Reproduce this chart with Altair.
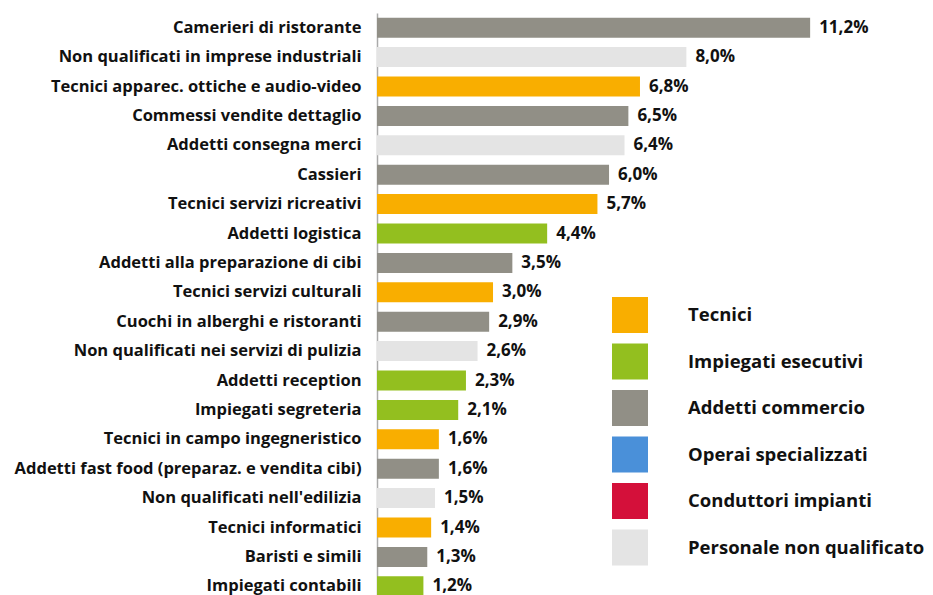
import altair as alt
import pandas as pd

categories = [
    "Camerieri di ristorante",
    "Non qualificati in imprese industriali",
    "Tecnici apparec. ottiche e audio-video",
    "Commessi vendite dettaglio",
    "Addetti consegna merci",
    "Cassieri",
    "Tecnici servizi ricreativi",
    "Addetti logistica",
    "Addetti alla preparazione di cibi",
    "Tecnici servizi culturali",
    "Cuochi in alberghi e ristoranti",
    "Non qualificati nei servizi di pulizia",
    "Addetti reception",
    "Impiegati segreteria",
    "Tecnici in campo ingegneristico",
    "Addetti fast food (preparaz. e vendita cibi)",
    "Non qualificati nell'edilizia",
    "Tecnici informatici",
    "Baristi e simili",
    "Impiegati contabili",
]
values = [11.2, 8.0, 6.8, 6.5, 6.4, 6.0, 5.7, 4.4, 3.5, 3.0, 2.9, 2.6, 2.3, 2.1, 1.6, 1.6, 1.5, 1.4, 1.3, 1.2]
groups = [
    "Addetti commercio", "Personale non qualificato", "Tecnici", "Addetti commercio",
    "Personale non qualificato", "Addetti commercio", "Tecnici", "Impiegati esecutivi",
    "Addetti commercio", "Tecnici", "Addetti commercio", "Personale non qualificato",
    "Impiegati esecutivi", "Impiegati esecutivi", "Tecnici", "Addetti commercio",
    "Personale non qualificato", "Tecnici", "Addetti commercio", "Impiegati esecutivi",
]
legend_groups = ["Tecnici", "Impiegati esecutivi", "Addetti commercio",
                 "Operai specializzati", "Conduttori impianti", "Personale non qualificato"]
legend_colors = ["#F9AE00", "#93BF1F", "#918F86", "#4A90D9", "#D4103A", "#E4E4E4"]

df = pd.DataFrame({
    "categoria": categories,
    "valore": values,
    "gruppo": groups,
    "etichetta": [f"{v:.1f}".replace(".", ",") + "%" for v in values],
})

FONT = "Open Sans"

y = alt.Y("categoria:N", sort=None, title=None,
          scale=alt.Scale(paddingInner=0.32, paddingOuter=0.16),
          axis=alt.Axis(ticks=False, domainColor="#AAAAAA", domainWidth=1.5,
                        labelFont=FONT, labelFontWeight="bold", labelFontSize=16.5,
                        labelColor="#111111", labelPadding=16, labelLimit=400))
x = alt.X("valore:Q", title=None, scale=alt.Scale(domain=[0, 14.17], nice=False), axis=None)

bars = alt.Chart(df).mark_bar().encode(
    y=y, x=x,
    color=alt.Color("gruppo:N",
                    scale=alt.Scale(domain=legend_groups, range=legend_colors),
                    legend=alt.Legend(title=None, orient="none", legendX=235, legendY=284,
                                      symbolType="square", symbolSize=1296,
                                      symbolStrokeWidth=0, labelFont=FONT,
                                      labelFontWeight="bold", labelFontSize=18.5,
                                      labelColor="#111111", labelOffset=40,
                                      rowPadding=10.5, labelLimit=400, padding=0)),
)

labels = alt.Chart(df).mark_text(align="left", baseline="middle", dx=9,
                                 font=FONT, fontWeight="bold", fontSize=17,
                                 color="#111111").encode(
    y=alt.Y("categoria:N", sort=None), x="valore:Q", text="etichetta:N")

chart = (bars + labels).properties(
    width=548, height=588,
    autosize=alt.AutoSizeParams(type="none"),
    padding={"left": 369, "top": 5, "right": 0, "bottom": 0},
).configure_view(stroke=None)

chart.save("out.html", embed_options={"renderer": "svg", "actions": False})
